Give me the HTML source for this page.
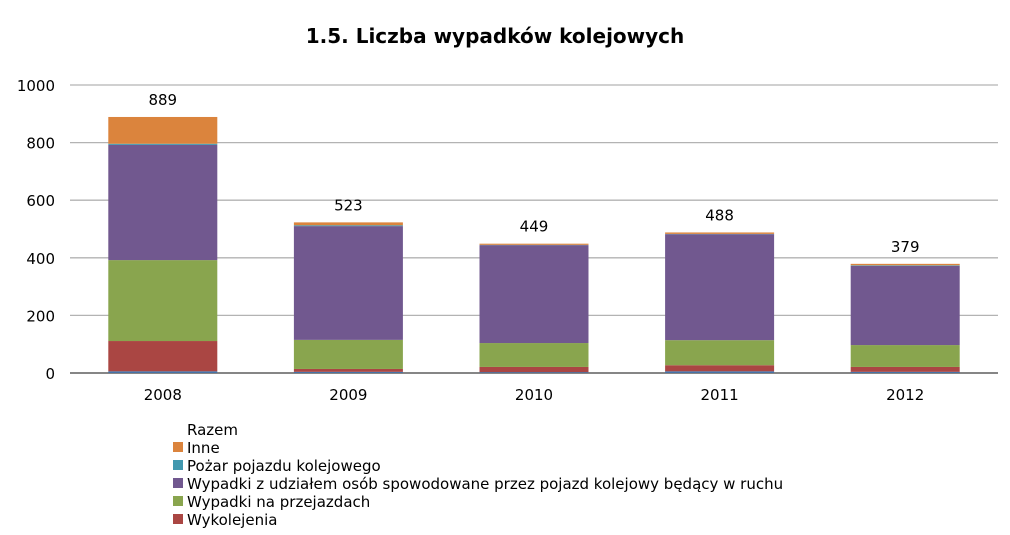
<!DOCTYPE html>
<html><head><meta charset="utf-8"><style>
body{margin:0;background:#fff;width:1010px;height:531px;overflow:hidden;font-family:"DejaVu Sans","Liberation Sans",sans-serif}
</style></head><body>
<svg id="c" width="1010" height="531">
<text x="495" y="43" text-anchor="middle" font-size="20" font-weight="bold" fill="#000">1.5. Liczba wypadków kolejowych</text>
<g id="grid"></g><g id="bars"></g><g id="labels"></g><g id="legend"></g>
</svg>
<script>
const years=["2008","2009","2010","2011","2012"];
const kolizje=[6,4,3,6,4];
const wykolejenia=[105,10,18,21,17];
const przejazdy=[281,101,83,87,76];
const osoby=[400,395,340,368,275];
const pozar=[4,3,1,1,2];
const inne=[93,10,4,5,5];
const totals=[889,523,449,488,379];
const yTicks=[0,200,400,600,800,1000];
const series=[
 {name:"kolizje",vals:kolizje,color:"#4572a7"},
 {name:"wykolejenia",vals:wykolejenia,color:"#aa4643"},
 {name:"wypadki-na-przejazdach",vals:przejazdy,color:"#89a54e"},
 {name:"wypadki-z-udzialem-osob",vals:osoby,color:"#71588f"},
 {name:"pozar",vals:pozar,color:"#4198af"},
 {name:"inne",vals:inne,color:"#db843d"}];
const NS="http://www.w3.org/2000/svg";
const x0=70,x1=998,yB=373,yT=85;
const y=v=>yB-(v/1000)*(yB-yT);
const step=(x1-x0)/years.length;
const cx=i=>x0+step*(i+0.5);
const bw=109;
function mk(t,a,p){const e=document.createElementNS(NS,t);for(const k in a)e.setAttribute(k,a[k]);p.appendChild(e);return e;}
const g=document.getElementById('grid');
yTicks.forEach(t=>{
 const l=mk('line',{x1:x0,x2:x1,y1:y(t),y2:y(t),stroke:t===0?'#868686':'#b3b3b3','stroke-width':t===0?2:1.3},g);
 
 
 const tx=mk('text',{x:55,y:y(t)+6,'text-anchor':'end','font-size':15},g);tx.textContent=t;
 
 
});
const b=document.getElementById('bars'),lb=document.getElementById('labels');
years.forEach((yr,i)=>{
 let acc=0;
 series.forEach(s=>{
  const v=s.vals[i];
  const r=mk('rect',{x:cx(i)-bw/2,y:y(acc+v),width:bw,height:y(acc)-y(acc+v),fill:s.color},b);
  
  
  acc+=v;
 });
 const t=mk('text',{x:cx(i),y:y(totals[i])-12,'text-anchor':'middle','font-size':15},lb);t.textContent=totals[i];
 
 
 const xt=mk('text',{x:cx(i),y:400,'text-anchor':'middle','font-size':15},lb);xt.textContent=yr;
 
 
});
const lg=document.getElementById('legend');
const t0=mk('text',{x:187,y:435,'font-size':15},lg);t0.textContent="Razem";


const entries=[["Inne","#db843d"],["Pożar pojazdu kolejowego","#4198af"],["Wypadki z udziałem osób spowodowane przez pojazd kolejowy będący w ruchu","#71588f"],["Wypadki na przejazdach","#89a54e"],["Wykolejenia","#aa4643"]];
entries.forEach((e,i)=>{
 const yy=447+i*18;
 const r=mk('rect',{x:173,y:yy-5,width:10,height:10,fill:e[1]},lg);
 
 
 const t=mk('text',{x:187,y:yy+6,'font-size':15},lg);t.textContent=e[0];
 
 
});
</script>
</body></html>
